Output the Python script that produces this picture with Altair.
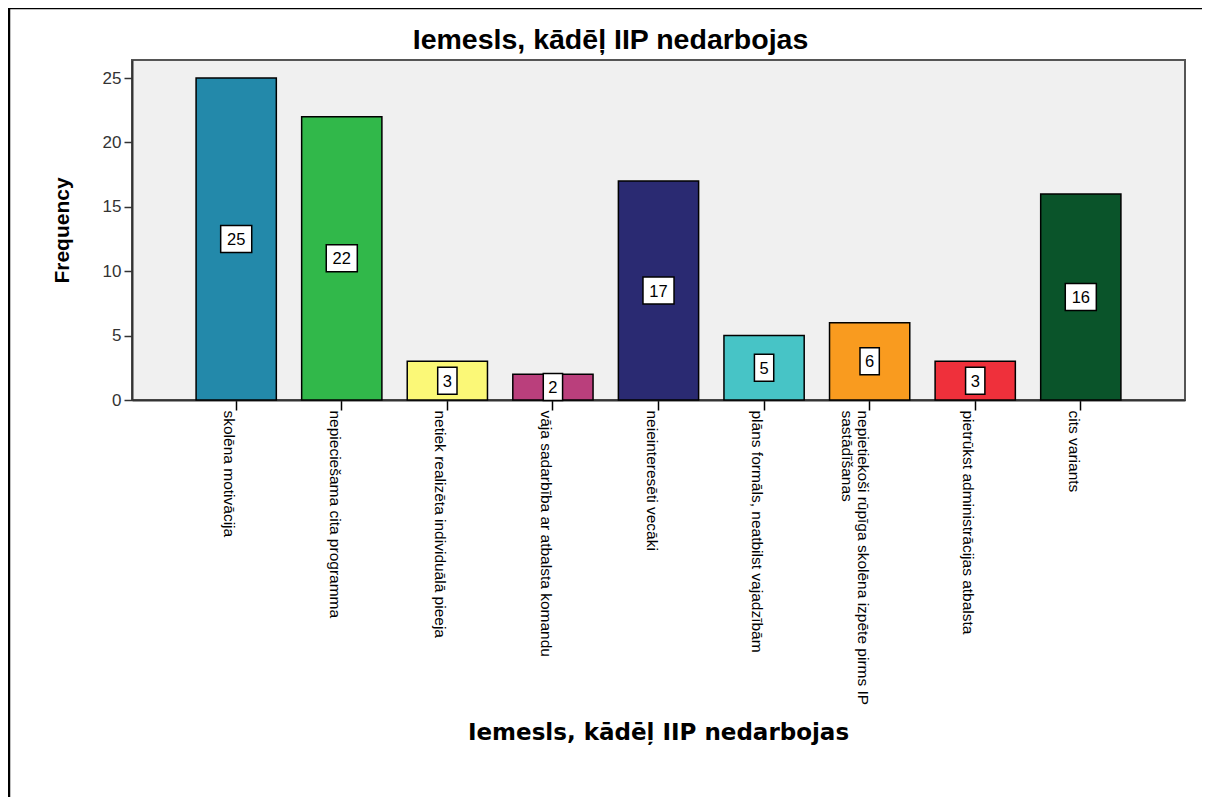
import altair as alt
import pandas as pd

title_text = "Iemesls, kādēļ IIP nedarbojas"
y_title = "Frequency"

categories = [
    "skolēna motivācija",
    "nepieciešama cita programma",
    "netiek realizēta individuālā pieeja",
    "vāja sadarbība ar atbalsta komandu",
    "neieinteresēti vecāki",
    "plāns formāls, neatbilst vajadzībām",
    "nepietiekoši rūpīga skolēna izpēte pirms IP\nsastādīšanas",
    "pietrūkst administrācijas atbalsta",
    "cits variants",
]
frequencies = [25, 22, 3, 2, 17, 5, 6, 3, 16]
bar_colors = ["#2389AA", "#31B84A", "#FBF877", "#BA3F7C", "#2A2A72",
              "#47C4C6", "#F99B1F", "#EF303B", "#0A542A"]
y_ticks = [0, 5, 10, 15, 20, 25]

df = pd.DataFrame({"reason": categories, "freq": frequencies})
df["box"] = ["wide" if v >= 10 else "narrow" for v in frequencies]

W, H = 1053, 340
FONT = "Liberation Sans"

xscale = alt.Scale(domain=categories, paddingInner=0.24, paddingOuter=0.607)
yscale = alt.Scale(domain=[0, 26.4], nice=False)

x_axis = alt.Axis(
    labelAngle=90, labelAlign="left", labelBaseline="top", labelPadding=0,
    tickSize=10, tickColor="black", tickWidth=1.5,
    domainColor="#333333", domainWidth=2,
    labelFont=FONT, labelFontSize=15.5, labelColor="black", labelLimit=500,
    labelLineHeight=16, labelOverlap=False,
    labelExpr="split(datum.label, '\\n')",
    titleFont="DejaVu Sans", titleFontSize=23, titleFontWeight="bold",
    titleColor="black", titleX=526, titleY=332, titleAlign="center",
    titleBaseline="middle",
)
y_axis = alt.Axis(
    values=y_ticks, tickSize=8, tickColor="#333333", tickWidth=1.5,
    domainColor="#333333", domainWidth=2, grid=False,
    labelFont=FONT, labelFontSize=17, labelColor="#333333", labelPadding=3,
    titleFont=FONT, titleFontSize=21, titleFontWeight="bold", titleColor="black",
    titleX=-70, titleY=170, titleAngle=270, titleAlign="center",
    titleBaseline="middle",
)

x_enc = alt.X("reason:N", sort=categories, scale=xscale, axis=x_axis, title=title_text)

base = alt.Chart(df)

bars = base.mark_bar(stroke="black", strokeWidth=1.5).encode(
    x=x_enc,
    y=alt.Y("freq:Q", scale=yscale, axis=y_axis, title=y_title),
    color=alt.Color("reason:N", scale=alt.Scale(domain=categories, range=bar_colors), legend=None),
)

narrow_path = "M-0.715,-1L0.715,-1L0.715,1L-0.715,1Z"
wide_path = "M-1.15,-1L1.15,-1L1.15,1L-1.15,1Z"

mid = base.transform_calculate(mid="datum.freq / 2")

boxes = mid.mark_point(filled=True, fill="white", stroke="black", strokeWidth=1.5,
                       opacity=1, size=729).encode(
    x=x_enc,
    y=alt.Y("mid:Q", scale=yscale, axis=y_axis, title=y_title),
    shape=alt.Shape("box:N", scale=alt.Scale(domain=["narrow", "wide"],
                                             range=[narrow_path, wide_path]), legend=None),
)

labels = mid.mark_text(font=FONT, fontSize=16.5, color="black", baseline="middle", dy=1).encode(
    x=x_enc,
    y=alt.Y("mid:Q", scale=yscale, axis=y_axis, title=y_title),
    text="freq:Q",
)

one = alt.Chart(pd.DataFrame({"a": [0]}))
frame_left = one.mark_rule(color="black", strokeWidth=2.5).encode(
    x=alt.value(-123), y=alt.value(-52), y2=alt.value(737))
frame_top = one.mark_rule(color="black", strokeWidth=1.5).encode(
    x=alt.value(-124), x2=alt.value(1070), y=alt.value(-51.5))

chart = alt.layer(bars, boxes, labels, frame_left, frame_top).properties(
    width=W, height=H,
    autosize=alt.AutoSizeParams(type="none"),
    padding={"left": 124, "top": 52, "right": 17, "bottom": 397},
    title=alt.TitleParams(title_text, fontSize=28.5, font=FONT, fontWeight="bold",
                          anchor="middle", dx=-48, offset=-62, baseline="middle",
                          color="black"),
).configure_view(fill="#F0F0F0", stroke="#555555", strokeWidth=2)

chart.save("out.html", embed_options={"renderer": "svg", "actions": False})
